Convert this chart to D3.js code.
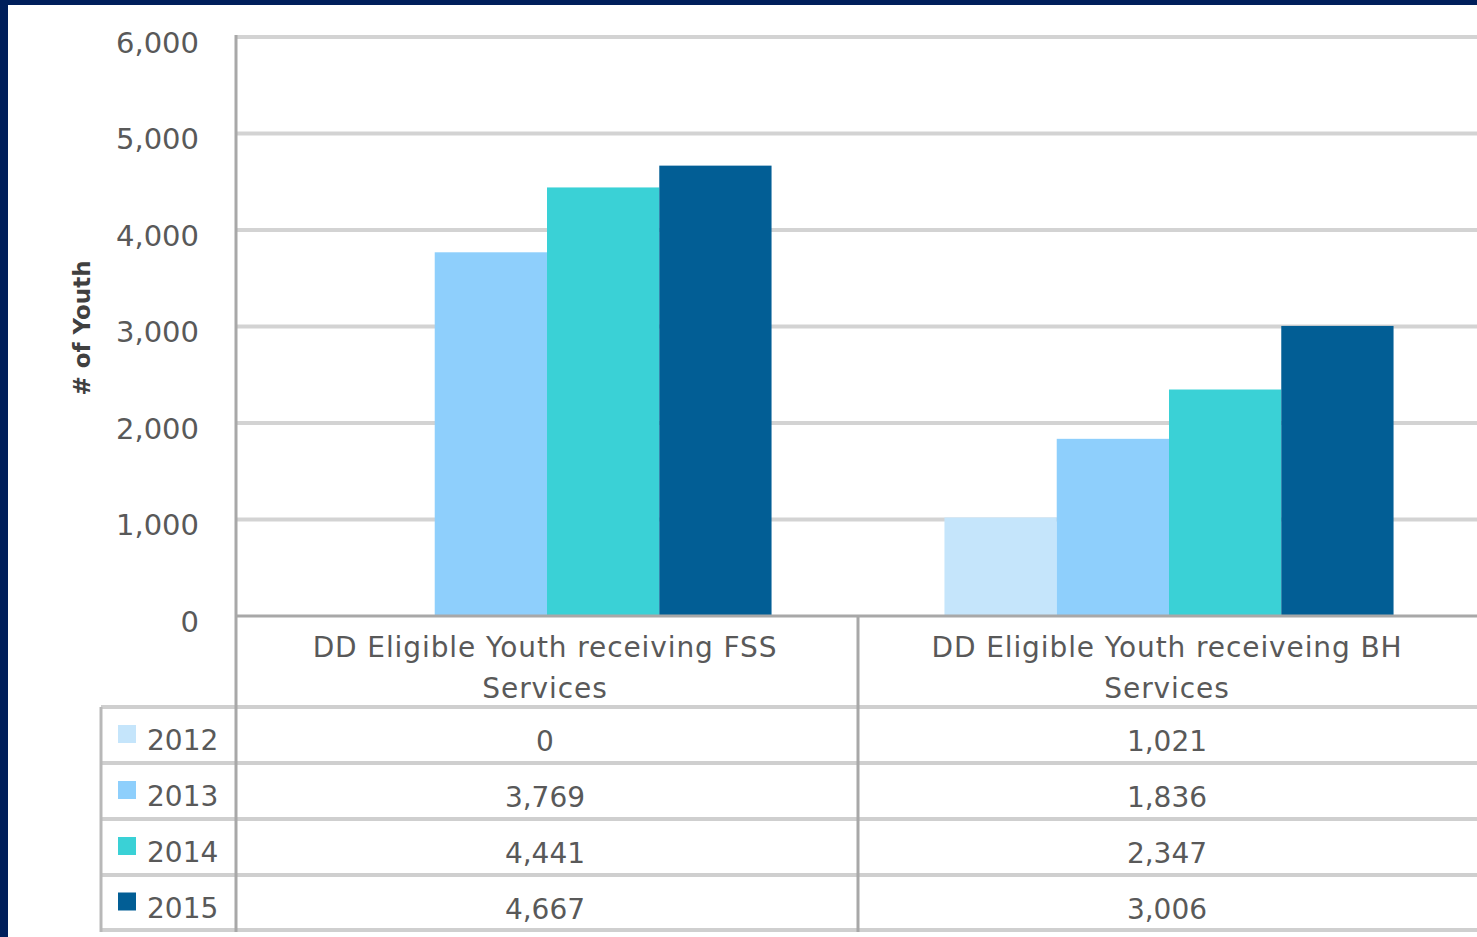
<!DOCTYPE html>
<html><head><meta charset="utf-8">
<script src="https://cdn.jsdelivr.net/npm/d3@7"></script>
<style>html,body{margin:0;padding:0;background:#fff;overflow:hidden}</style>
</head><body>
<svg id="c" width="1477" height="937"></svg>
<script>
const categories = ["DD Eligible Youth receiving FSS Services", "DD Eligible Youth receiveing BH Services"];
const categoryLines = [["DD Eligible Youth receiving FSS", "Services"], ["DD Eligible Youth receiveing BH", "Services"]];
const years = ["2012", "2013", "2014", "2015"];
const values2012 = [0, 1021];
const values2013 = [3769, 1836];
const values2014 = [4441, 2347];
const values2015 = [4667, 3006];
const yTicks = [0, 1000, 2000, 3000, 4000, 5000, 6000];
const colors = ["#c5e5fb", "#8ecffc", "#3ad1d6", "#025e95"];
const seriesValues = [values2012, values2013, values2014, values2015];

const svg = d3.select("#c");
const W = 1477, H = 937;
const FONT = "'DejaVu Sans', sans-serif";
const TXT = "#595959";
const plotL = 236, plotR = 1480, plotT = 37, zeroY = 616;
const rowY = [707, 763, 819, 875, 930];
const tableL = 101;

svg.append("rect").attr("width", W).attr("height", H).attr("fill", "#fff");

const y = d3.scaleLinear().domain([0, 6000]).range([zeroY, plotT]);
const x0 = d3.scaleBand().domain(categories).range([plotL, plotR]).padding(0);
const x1 = d3.scaleBand().domain(years).range([0, x0.bandwidth()]).paddingInner(0).paddingOuter(0.77);

// gridlines
svg.append("g").selectAll("line").data(yTicks.filter(d => d > 0)).join("line")
  .attr("x1", plotL).attr("x2", W).attr("y1", d => y(d)).attr("y2", d => y(d))
  .attr("stroke", "#d3d3d3").attr("stroke-width", 4);

// y axis labels
const yAxis = d3.axisLeft(y).tickValues(yTicks).tickFormat(d3.format(",")).tickSize(0).tickPadding(0);
const ga = svg.append("g").attr("transform", `translate(199,5)`).call(yAxis);
ga.select(".domain").remove();
ga.selectAll("text").attr("font-family", FONT).attr("font-size", 29).attr("fill", TXT).attr("dy", "0.36em");

// bars
const groups = svg.append("g").selectAll("g").data(categories).join("g")
  .attr("transform", d => `translate(${x0(d)},0)`);
groups.selectAll("rect").data((c, i) => years.map((yr, k) => ({yr, v: seriesValues[k][i], k})))
  .join("rect")
  .attr("x", d => x1(d.yr)).attr("width", x1.bandwidth())
  .attr("y", d => y(d.v)).attr("height", d => zeroY - y(d.v))
  .attr("fill", d => colors[d.k]);

// zero line / table lines
svg.append("line").attr("x1", plotL).attr("x2", W).attr("y1", zeroY).attr("y2", zeroY)
  .attr("stroke", "#a8a8a8").attr("stroke-width", 3);
svg.append("g").selectAll("line").data(rowY).join("line")
  .attr("x1", tableL).attr("x2", W).attr("y1", d => d).attr("y2", d => d)
  .attr("stroke", "#cfcfcf").attr("stroke-width", 4);
// vertical lines
svg.append("line").attr("x1", plotL).attr("x2", plotL).attr("y1", plotT - 2).attr("y2", rowY[4] + 2)
  .attr("stroke", "#a8a8a8").attr("stroke-width", 3);
svg.append("line").attr("x1", x0(categories[1])).attr("x2", x0(categories[1])).attr("y1", zeroY).attr("y2", rowY[4] + 2)
  .attr("stroke", "#a8a8a8").attr("stroke-width", 3);
svg.append("line").attr("x1", tableL).attr("x2", tableL).attr("y1", rowY[0]).attr("y2", rowY[4] + 2)
  .attr("stroke", "#b8b8b8").attr("stroke-width", 3);

// category labels
categories.forEach((c, i) => {
  const cx = x0(c) + x0.bandwidth() / 2 - 2;
  categoryLines[i].forEach((ln, j) => {
    svg.append("text").attr("x", cx).attr("y", 657 + j * 41).attr("text-anchor", "middle")
      .attr("font-family", FONT).attr("font-size", 28).attr("letter-spacing", 0.9).attr("fill", TXT).text(ln);
  });
});

// table values and legend
const fmt = d3.format(",");
years.forEach((yr, k) => {
  const cy = (rowY[k] + rowY[k + 1]) / 2;
  svg.append("rect").attr("x", 118).attr("y", cy - 10).attr("width", 18).attr("height", 18).attr("fill", colors[k]);
  svg.append("text").attr("x", 147).attr("y", cy + 15).attr("font-family", FONT).attr("font-size", 28)
    .attr("fill", TXT).text(yr);
  categories.forEach((c, i) => {
    svg.append("text").attr("x", x0(c) + x0.bandwidth() / 2 - 2).attr("y", cy + 16).attr("text-anchor", "middle")
      .attr("font-family", FONT).attr("font-size", 28).attr("fill", TXT).text(fmt(seriesValues[k][i]));
  });
});

// y title
svg.append("text").attr("transform", "translate(90,328) rotate(-90)").attr("text-anchor", "middle")
  .attr("font-family", FONT).attr("font-size", 23).attr("font-weight", "bold").attr("fill", "#404040").text("# of Youth");

// navy frame
svg.append("rect").attr("x", 0).attr("y", 0).attr("width", W).attr("height", 5).attr("fill", "#001f5b");
svg.append("rect").attr("x", 0).attr("y", 0).attr("width", 8).attr("height", H).attr("fill", "#001f5b");
</script>
</body></html>
